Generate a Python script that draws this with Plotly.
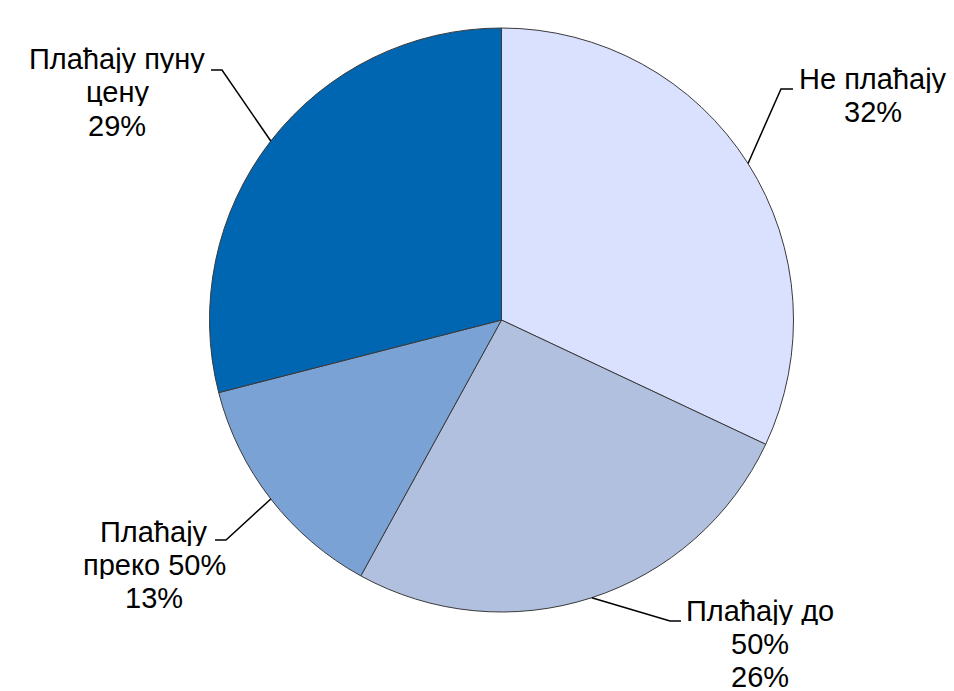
import math
import plotly.graph_objects as go

labels = ["Не плаћају", "Плаћају до 50%", "Плаћају преко 50%", "Плаћају пуну цену"]
values = [32, 26, 13, 29]
label_lines = [["Не плаћају", "32%"],
               ["Плаћају до", "50%", "26%"],
               ["Плаћају", "преко 50%", "13%"],
               ["Плаћају пуну", "цену", "29%"]]
colors = ["#DAE1FF", "#B0C0DE", "#7AA2D4", "#0066B2"]

W, H = 954, 691
CX, CY, R = 501.5, 320, 292
PITCH = 33
FONT = 29

# label layout (pixels): elbow point, elbow end, text center x, first line center y
label_layout = [
    dict(elbow=(781, 89), end=(793, 89), tx=873, ty=78),
    dict(elbow=(670, 621), end=(681, 621), tx=760, ty=610),
    dict(elbow=(226, 540), end=(215, 540), tx=154, ty=531),
    dict(elbow=(222, 70), end=(211, 70), tx=117, ty=59),
]

def px(x):
    return x / W

def py(y):
    return 1 - y / H

fig = go.Figure(go.Pie(
    labels=labels, values=values, sort=False, direction="clockwise", rotation=0,
    marker=dict(colors=colors, line=dict(color="#3a3a3a", width=1)),
    textinfo="none", hoverinfo="label+percent", showlegend=False,
    domain=dict(x=[px(CX - R), px(CX + R)], y=[py(CY + R), py(CY - R)]),
))

total = sum(values)
cum = 0
shapes, annotations = [], []
for v, lines, lay in zip(values, label_lines, label_layout):
    mid = (cum + v / 2) / total * 2 * math.pi
    cum += v
    sx = CX + R * math.sin(mid)
    sy = CY - R * math.cos(mid)
    ex, ey = lay["elbow"]
    fx, fy = lay["end"]
    shapes.append(dict(type="path", xref="paper", yref="paper",
                       path=f"M {px(sx)},{py(sy)} L {px(ex)},{py(ey)} L {px(fx)},{py(fy)}",
                       line=dict(color="black", width=1.5)))
    for i, line in enumerate(lines):
        annotations.append(dict(x=px(lay["tx"]), y=py(lay["ty"] + i * PITCH),
                                xref="paper", yref="paper",
                                text=line, showarrow=False, align="center",
                                xanchor="center", yanchor="middle",
                                height=FONT, valign="middle",
                                font=dict(family="Liberation Sans, Arial", size=FONT, color="black")))

fig.update_layout(width=W, height=H, margin=dict(l=0, r=0, t=0, b=0),
                  paper_bgcolor="white", plot_bgcolor="white",
                  shapes=shapes, annotations=annotations)
fig.write_html("out.html", config={"displayModeBar": False},
               post_script="document.body.style.margin='0';")
